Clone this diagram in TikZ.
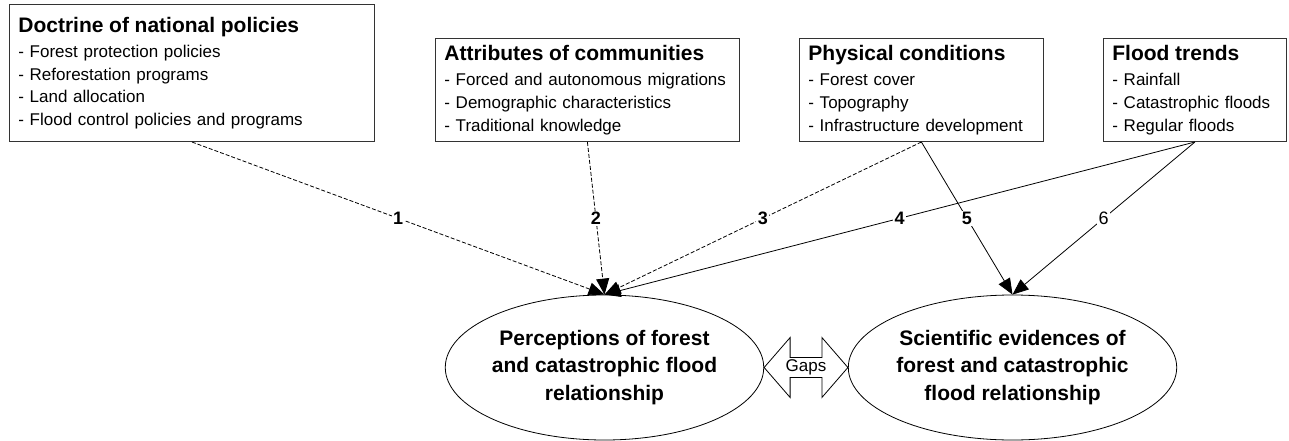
\documentclass[tikz,border=0pt]{standalone}
\usepackage{fontspec}
\setmainfont{Liberation Sans}
\usetikzlibrary{shapes.geometric, arrows.meta, positioning, calc}

\newcommand{\heading}[1]{{\bfseries\fontsize{21}{22.7}\selectfont #1}\\[2.3pt]}

\begin{document}
\begin{tikzpicture}[
        x=1pt, y=-1pt,
        factor/.style={rectangle, draw=black!80, line width=0.8pt, anchor=south west, align=left, inner xsep=9pt, inner ysep=0pt, font=\fontsize{17}{22.7}\selectfont},
        outcome/.style={ellipse, draw, line width=0.8pt, minimum width=305pt, minimum height=145pt, inner sep=0pt, align=center, font=\bfseries\fontsize{21}{27.5}\selectfont},
        arrow/.style={line width=0.8pt, ->, >={Triangle[length=16pt, width=13pt]}},
        weak/.style={arrow, dash pattern=on 4pt off 2pt},
        num/.style={fill=white, inner sep=1.5pt, font=\bfseries\fontsize{18}{18}\selectfont}
    ]
        \useasboundingbox (0,0) rectangle (1289,441);

        \node[factor, text width=347pt, minimum height=137pt] (policy) at (9,142) {\heading{Doctrine of national policies}
            - Forest protection policies\\
            - Reforestation programs\\
            - Land allocation\\
            - Flood control policies and programs};
        \node[factor, text width=286pt, minimum height=103pt] (community) at (435,142) {\heading{Attributes of communities}
            - Forced and autonomous migrations\\
            - Demographic characteristics\\
            - Traditional knowledge};
        \node[factor, text width=226pt, minimum height=103pt] (physical) at (799,142) {\heading{Physical conditions}
            - Forest cover\\
            - Topography\\
            - Infrastructure development};
        \node[factor, text width=165pt, minimum height=103pt] (flood) at (1103,142) {\heading{Flood trends}
            - Rainfall\\
            - Catastrophic floods\\
            - Regular floods};

        \node[outcome] (percept) at (604.5,367.5) {Perceptions of forest\\and catastrophic flood\\relationship};
        \node[outcome] (science) at (1012.5,367.5) {Scientific evidences of\\forest and catastrophic\\flood relationship};

        \draw[weak] (policy.south) -- node[num] {1} (percept.north);
        \draw[weak] (community.south) -- node[num] {2} (percept.north);
        \draw[weak] (physical.south) -- node[num] {3} (percept.north);
        \draw[arrow] (flood.south) -- node[num] {4} (percept.north);
        \draw[arrow] (physical.south) -- node[num] {5} (science.north);
        \draw[arrow] (flood.south) -- node[num, font=\fontsize{18}{18}\selectfont] {6} (science.north);

        \draw[line width=0.8pt] (percept.east) -- ++(26,-30) -- ++(0,20) -- ($(science.west)+(-26,-10)$) -- ++(0,-20)
            -- (science.west) -- ++(-26,30) -- ++(0,-20) -- ($(percept.east)+(26,10)$) -- ++(0,20) -- cycle;
        \node[font=\fontsize{17}{17}\selectfont] (gap) at ($(percept.east)!0.5!(science.west)$) {Gaps};
    \end{tikzpicture}
\end{document}
